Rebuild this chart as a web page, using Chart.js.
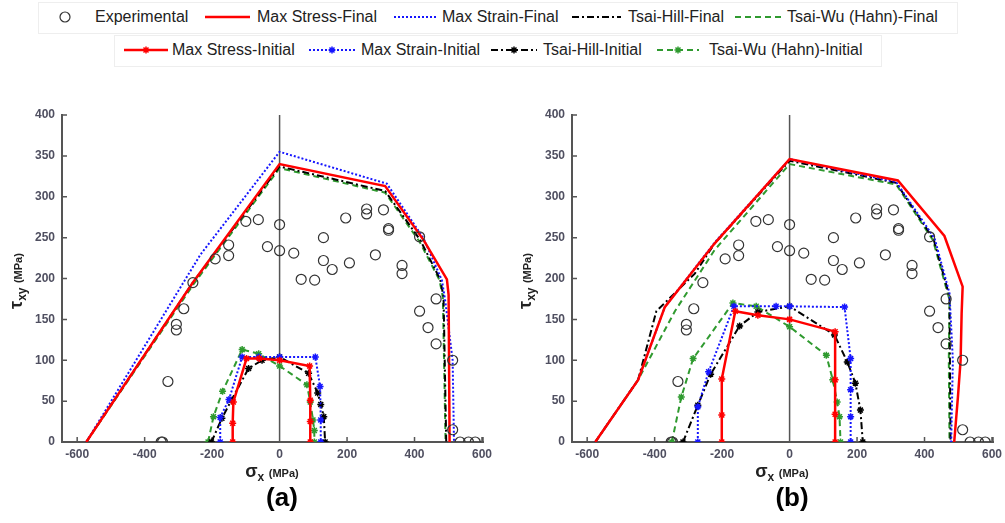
<!DOCTYPE html>
<html>
<head>
<meta charset="utf-8">
<script src="https://cdn.jsdelivr.net/npm/chart.js@4.4.0/dist/chart.umd.min.js"></script>
<style>
  body { margin: 0; width: 1005px; height: 523px; overflow: hidden; background: #fff;
         position: relative; font-family: 'Liberation Sans', Arial, sans-serif; }
  .box { position: absolute; border: 1px solid #eeeeee; }
  .item { position: absolute; height: 30px; line-height: 30px; font-size: 16px; color: #222; white-space: nowrap; }
  .item svg { position: absolute; top: 0; }
  .plot { position: absolute; top: 95px; }
  .xt { position: absolute; top: 461px; width: 200px; text-align: center; font-weight: bold; color: #222; }
  .yt { position: absolute; width: 120px; height: 24px; line-height: 24px; text-align: center;
        font-weight: bold; color: #222; transform: rotate(-90deg); }
  .big { font-size: 18px; }
  .sb { font-size: 12px; }
  .un { font-size: 11px; }
  .lab { position: absolute; top: 482px; width: 80px; text-align: center; font-weight: bold; font-size: 26px; color: #000; }
</style>
</head>
<body>
<div class="box" style="left:38px;top:2px;width:918px;height:30px"></div>
<div class="box" style="left:114px;top:35px;width:766px;height:30px"></div>
<div id="legend"></div>

<div class="plot" style="left:0px"><canvas id="chartA" width="500" height="375"></canvas></div>
<div class="plot" style="left:510px"><canvas id="chartB" width="495" height="375"></canvas></div>

<div class="yt" style="left:-44px;top:269px"><span class="big">τ</span><sub class="sb">xy</sub> <span class="un">(MPa)</span></div>
<div class="yt" style="left:465px;top:269px"><span class="big">τ</span><sub class="sb">xy</sub> <span class="un">(MPa)</span></div>
<div class="xt" style="left:172px"><span class="big">σ</span><sub class="sb">x</sub> <span class="un">(MPa)</span></div>
<div class="xt" style="left:682px"><span class="big">σ</span><sub class="sb">x</sub> <span class="un">(MPa)</span></div>
<div class="lab" style="left:242px">(a)</div>
<div class="lab" style="left:752px">(b)</div>

<script>
// tick labels
const xTicks = [-600, -400, -200, 0, 200, 400, 600];
const yTicks = [0, 50, 100, 150, 200, 250, 300, 350, 400];

const seriesNames = ['Experimental',
  'Max Stress-Final', 'Max Strain-Final', 'Tsai-Hill-Final', 'Tsai-Wu (Hahn)-Final',
  'Max Stress-Initial', 'Max Strain-Initial', 'Tsai-Hill-Initial', 'Tsai-Wu (Hahn)-Initial'];

// experimental points (same in both plots) [sigma_x, tau_xy]
const expPoints = [[-257,195],[-191,224],[-151,241],[-151,228],[-100,270],[-63,272],[-36,239],
  [0,266],[0,234],[42,231],[64,199],[104,198],[130,250],[130,222],[156,211],[196,274],[207,219],
  [258,285],[258,279],[284,229],[308,284],[323,261],[323,259],[363,216],[363,206],[415,251],
  [464,175],[-284,163],[-306,144],[-306,137],[-331,74],[-351,0],[-347,0],[415,160],[440,140],
  [464,120],[513,100],[513,15],[535,0],[560,0],[580,0]];

// (a)
const aStressFinal = [[-573,0],[-257,195],[0,340],[313,313],[427,247],[496,199],[501,180],[504,0]];
const aStrainFinal = [[-573,0],[-235,229],[0,355],[318,316],[427,249],[481,198],[491,173],[513,100],[517,0]];
const aHillFinal = [[-573,0],[-257,195],[0,337],[313,307],[417,247],[476,199],[486,178],[494,0]];
const aWuFinal = [[-573,0],[-255,193],[0,335],[313,305],[415,245],[474,198],[484,177],[492,0]];
const aStressInit = [[-139,0],[-139,23],[-137,49],[-98,102],[-60,102],[0,100],[89,93],[91,51],[91,25],[91,0]];
const aStrainInit = [[-176,0],[-176,30],[-150,52],[-111,104],[-62,104],[0,104],[106,104],[120,68],[122,27],[122,0]];
const aHillInit = [[-202,0],[-171,29],[-143,51],[-92,90],[-52,100],[0,104],[86,84],[113,60],[122,46],[131,31],[135,0]];
const aWuInit = [[-212,0],[-196,31],[-169,62],[-111,113],[-62,108],[0,93],[81,70],[91,49],[99,27],[103,14],[103,0]];

// (b)
const bStressFinal = [[-576,0],[-449,76],[-370,165],[-222,243],[0,346],[321,320],[459,252],[513,190],[510,157],[507,100],[499,55],[488,0]];
const bStrainFinal = [[-576,0],[-449,76],[-370,165],[-222,244],[0,346],[316,318],[430,249],[474,182],[484,100],[479,0]];
const bHillFinal = [[-576,0],[-449,76],[-395,160],[-281,206],[-222,243],[0,344],[316,317],[427,248],[474,178],[477,0]];
const bWuFinal = [[-576,0],[-449,76],[-340,160],[-222,235],[0,340],[316,315],[425,247],[474,174],[472,100],[474,0]];
const bStressInit = [[-201,0],[-201,33],[-201,77],[-161,160],[-94,155],[0,150],[135,135],[135,76],[135,34],[135,0]];
const bStrainInit = [[-272,0],[-272,43],[-240,86],[-165,166],[-40,166],[0,166],[163,165],[181,102],[181,64],[181,31],[181,0]];
const bHillInit = [[-316,0],[-272,45],[-234,83],[-148,142],[-94,159],[0,166],[133,131],[171,98],[195,72],[210,39],[217,0]];
const bWuInit = [[-349,0],[-321,55],[-286,102],[-168,170],[-99,166],[0,141],[109,106],[128,76],[141,49],[148,31],[151,0]];

// line styles for the 8 criteria series
const RED = '#ff0000', BLUE = '#1515ff', BLACK = '#000000', GREEN = '#2f9a2f';
const styles = [
  {color: RED, width: 2.5, dash: []},
  {color: BLUE, width: 2, dash: [2, 2]},
  {color: BLACK, width: 2, dash: [7, 3, 2, 3]},
  {color: GREEN, width: 2, dash: [6, 4]},
  {color: RED, width: 2.5, dash: [], marker: true},
  {color: BLUE, width: 2, dash: [2, 2], marker: true},
  {color: BLACK, width: 2, dash: [7, 3, 2, 3], marker: true},
  {color: GREEN, width: 2, dash: [6, 4], marker: true}
];

const toXY = pts => pts.map(p => ({x: p[0], y: p[1]}));

// inward tick marks and the sigma_x = 0 line
const axisExtras = {
  id: 'axisExtras',
  beforeDatasetsDraw(chart) {
    const ctx = chart.ctx, x = chart.scales.x, y = chart.scales.y;
    ctx.save();
    ctx.strokeStyle = '#555';
    ctx.lineWidth = 1.5;
    ctx.beginPath();
    const x0 = x.getPixelForValue(0);
    ctx.moveTo(x0, y.getPixelForValue(0));
    ctx.lineTo(x0, y.getPixelForValue(400));
    xTicks.forEach(v => {
      const px = x.getPixelForValue(v);
      ctx.moveTo(px, y.bottom);
      ctx.lineTo(px, y.bottom - 5);
    });
    ctx.moveTo(x.right, y.bottom);
    ctx.lineTo(x.right, y.bottom - 5);
    yTicks.forEach(v => {
      const py = y.getPixelForValue(v);
      ctx.moveTo(x.left, py);
      ctx.lineTo(x.left + 5, py);
    });
    ctx.stroke();
    ctx.restore();
  }
};

function makeChart(id, series, rightPad) {
  const datasets = [{
    label: seriesNames[0],
    data: toXY(expPoints),
    showLine: false,
    pointStyle: 'circle',
    pointRadius: 5,
    pointBorderWidth: 1.2,
    borderColor: '#333',
    backgroundColor: 'rgba(0,0,0,0)'
  }];
  series.forEach((pts, i) => {
    const st = styles[i];
    datasets.push({
      label: seriesNames[i + 1],
      data: toXY(pts),
      showLine: true,
      borderColor: st.color,
      backgroundColor: st.color,
      borderWidth: st.width,
      borderDash: st.dash,
      tension: 0,
      pointStyle: 'star',
      pointRadius: st.marker ? 3.5 : 0,
      pointBorderWidth: 1.5,
      pointBorderColor: st.color
    });
  });

  const tickFont = {family: "'Liberation Sans', Arial, sans-serif", size: 12, weight: 'bold'};
  new Chart(document.getElementById(id), {
    type: 'scatter',
    data: {datasets: datasets},
    options: {
      responsive: false,
      animation: false,
      devicePixelRatio: 1,
      layout: {padding: {left: 0, right: rightPad, top: 20, bottom: 0}},
      plugins: {legend: {display: false}, tooltip: {enabled: false}},
      scales: {
        x: {
          type: 'linear', min: -645, max: 603,
          afterBuildTicks: s => { s.ticks = xTicks.map(v => ({value: v})); },
          afterFit: s => { s.height = 28; s.paddingLeft = 0; s.paddingRight = 0; },
          grid: {display: false, drawTicks: false},
          border: {display: true, color: '#555', width: 2},
          ticks: {font: tickFont, color: '#4f4f60', padding: 5, maxRotation: 0, autoSkip: false}
        },
        y: {
          type: 'linear', min: 0, max: 400,
          afterBuildTicks: s => { s.ticks = yTicks.map(v => ({value: v})); },
          afterFit: s => { s.width = 62; s.paddingTop = 0; s.paddingBottom = 0; },
          grid: {display: false, drawTicks: false},
          border: {display: true, color: '#555', width: 2},
          ticks: {font: tickFont, color: '#4f4f60', padding: 7, autoSkip: false}
        }
      }
    },
    plugins: [axisExtras]
  });
}

makeChart('chartA', [aStressFinal, aStrainFinal, aHillFinal, aWuFinal, aStressInit, aStrainInit, aHillInit, aWuInit], 17);
makeChart('chartB', [bStressFinal, bStrainFinal, bHillFinal, bWuFinal, bStressInit, bStrainInit, bHillInit, bWuInit], 12);

// legend (shared, two rows)
function sampleSvg(idx, w) {
  let s = '<svg width="' + w + '" height="30">';
  if (idx === 0) {
    s += '<circle cx="' + (w / 2) + '" cy="15" r="5" fill="none" stroke="#333" stroke-width="1.2"/>';
  } else {
    const st = styles[idx - 1];
    const dash = st.dash.length ? ' stroke-dasharray="' + st.dash.join(',') + '"' : '';
    s += '<line x1="0" y1="15" x2="' + w + '" y2="15" stroke="' + st.color + '" stroke-width="' + st.width + '"' + dash + '/>';
    if (st.marker) {
      const c = w / 2;
      s += '<path d="M' + (c - 3.5) + ' 15 L' + (c + 3.5) + ' 15 M' + c + ' 11.5 L' + c + ' 18.5 M' +
        (c - 2.5) + ' 12.5 L' + (c + 2.5) + ' 17.5 M' + (c - 2.5) + ' 17.5 L' + (c + 2.5) + ' 12.5" stroke="' +
        st.color + '" stroke-width="1.5"/>';
    }
  }
  return s + '</svg>';
}

const legendLayout = [
  {i: 0, top: 2, sx: 55, sw: 20, tx: 95},
  {i: 1, top: 2, sx: 205, sw: 45, tx: 257},
  {i: 2, top: 2, sx: 394, sw: 42, tx: 442},
  {i: 3, top: 2, sx: 572, sw: 49, tx: 628},
  {i: 4, top: 2, sx: 735, sw: 46, tx: 787},
  {i: 5, top: 35, sx: 124, sw: 44, tx: 172},
  {i: 6, top: 35, sx: 309, sw: 46, tx: 361},
  {i: 7, top: 35, sx: 491, sw: 46, tx: 543},
  {i: 8, top: 35, sx: 657, sw: 42, tx: 709}
];
const legend = document.getElementById('legend');
legendLayout.forEach(e => {
  const d = document.createElement('div');
  d.className = 'item';
  d.style.left = e.sx + 'px';
  d.style.top = e.top + 'px';
  d.innerHTML = sampleSvg(e.i, e.sw).replace('<svg', '<svg style="left:0"') +
    '<span style="position:absolute;left:' + (e.tx - e.sx) + 'px">' + seriesNames[e.i] + '</span>';
  legend.appendChild(d);
});
</script>
</body>
</html>
